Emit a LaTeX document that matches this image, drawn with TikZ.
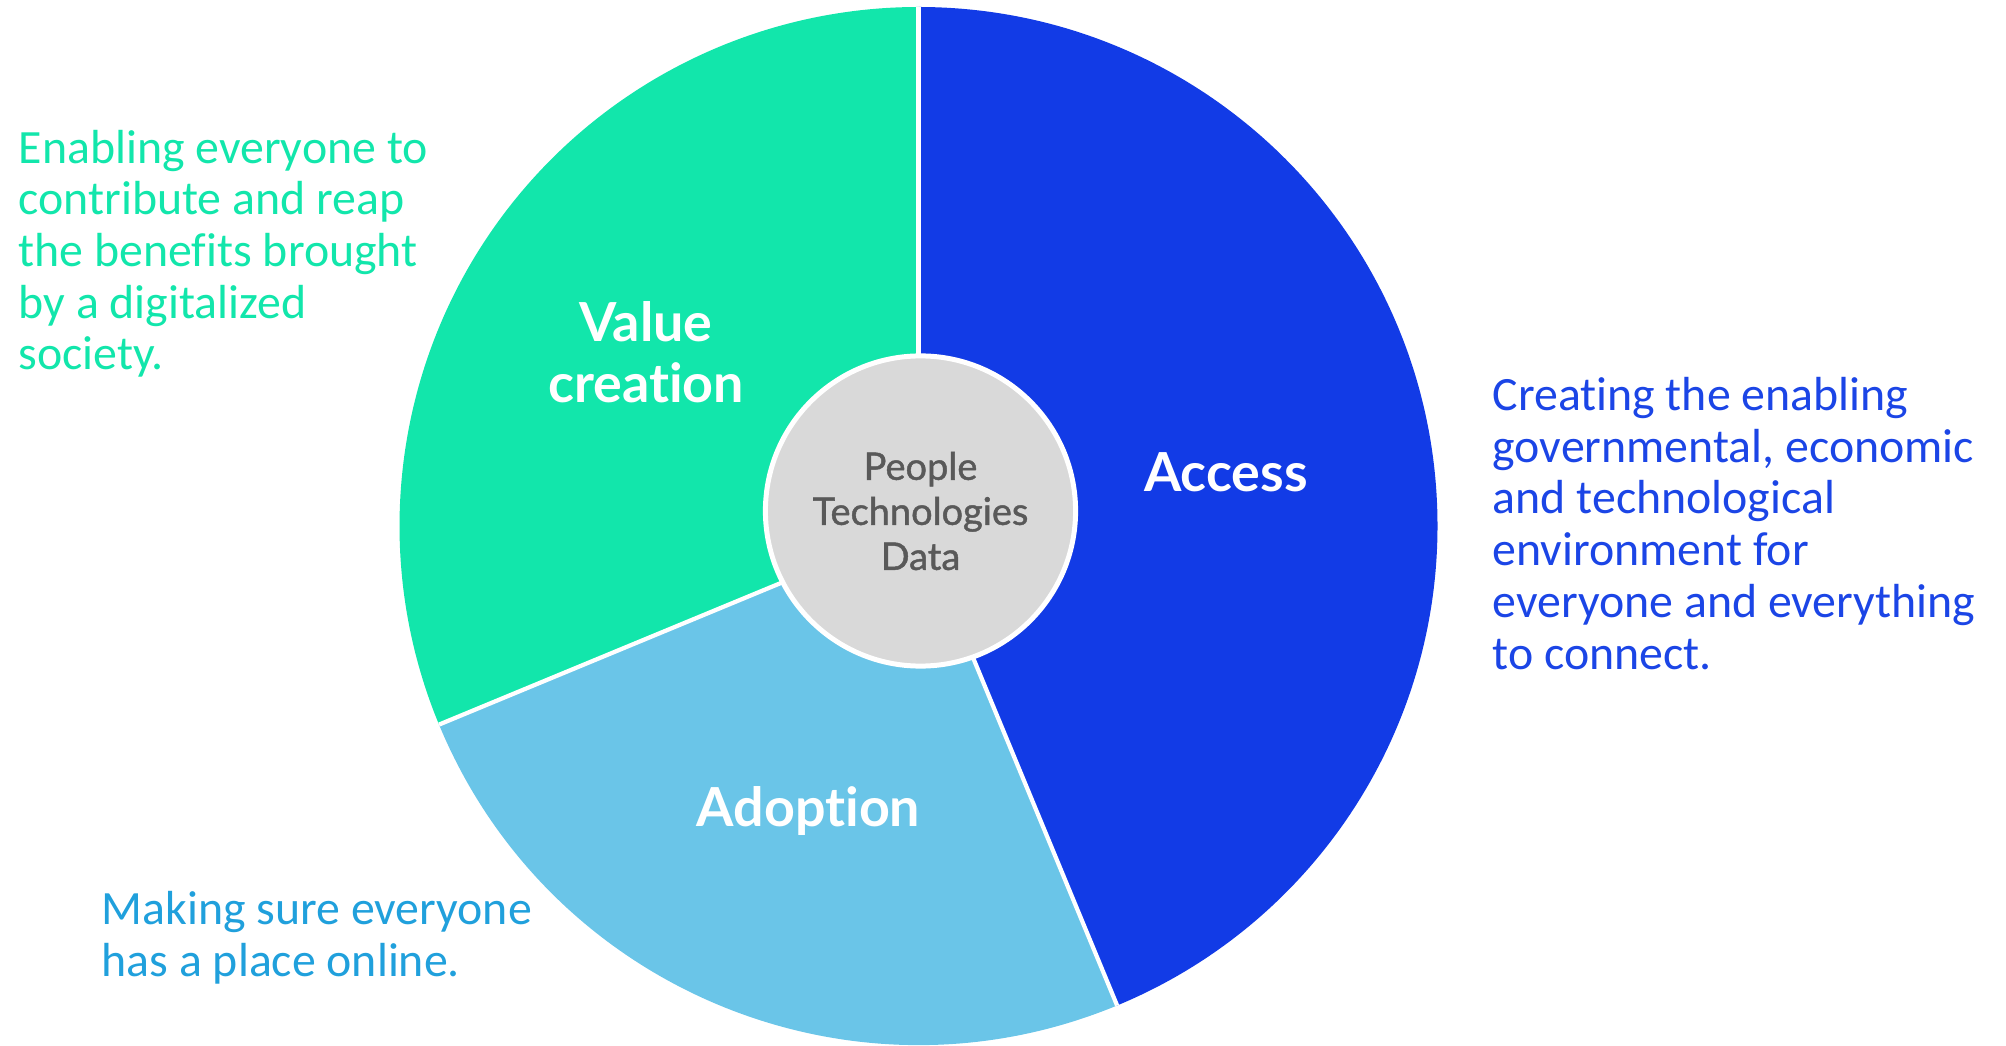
\documentclass[tikz,border=0pt]{standalone}
\usepackage{fontspec}
\setmainfont{Carlito}[Ligatures=NoCommon]
\newfontfamily\labelfont{Lato}[Ligatures=NoCommon]
\newfontfamily\corefont{Lato}[Ligatures=NoCommon, FakeBold=1.2]
\definecolor{valuegreen}{RGB}{18,230,171}
\definecolor{adoptblue}{RGB}{106,197,232}
\definecolor{adopttext}{RGB}{32,160,220}
\definecolor{accessblue}{RGB}{18,59,230}
\definecolor{accesstext}{RGB}{27,69,230}
\definecolor{coregray}{RGB}{217,217,217}
\definecolor{coretext}{RGB}{89,89,89}

\begin{document}
\begin{tikzpicture}[x=0.01cm, y=0.01cm,
  sep/.style={white, line width=1.2pt},
  slicelabel/.style={text=white, font=\labelfont\bfseries\fontsize{15.3}{17.4}\selectfont, align=center, anchor=base, inner sep=0pt},
  sidetext/.style={font=\fontsize{13.6}{14.7}\selectfont, align=left, anchor=base west, inner sep=0pt},
  core/.style={circle, fill=coregray, draw=white, line width=1.42pt, minimum size=3.1cm, inner sep=0pt, align=center, text=coretext, font=\corefont\fontsize{10.8}{12.8}\selectfont}]
\useasboundingbox (0,0) rectangle (2006,1045);
\coordinate (c) at (918.5,519);
\fill[accessblue] (c) -- ++(90:519) arc[start angle=90, end angle=-67.5, radius=519] -- cycle;
\fill[adoptblue] (c) -- ++(-67.5:519) arc[start angle=-67.5, end angle=-157.5, radius=519] -- cycle;
\fill[valuegreen] (c) -- ++(202.5:519) arc[start angle=202.5, end angle=90, radius=519] -- cycle;
\draw[sep] (c) -- ++(90:519);
\draw[sep] (c) -- ++(-67.5:519);
\draw[sep] (c) -- ++(202.5:519);
\node[core] (core) at (920.5,534) {People\\Technologies\\Data};
\node[slicelabel] (value) at (646,642) {Value\\creation};
\node[slicelabel] (access) at (1226,553) {Access};
\node[slicelabel] (adoption) at (808.5,219) {Adoption};
\node[sidetext, text=valuegreen] (valuetext) at (18,675) {Enabling everyone to\\contribute and reap\\the benefits brought\\by a digitalized\\society.};
\node[sidetext, text=accesstext] (accesstext) at (1492,376) {Creating the enabling\\governmental, economic\\and technological\\environment for\\everyone and everything\\to connect.};
\node[sidetext, text=adopttext] (adopttext) at (101,69) {Making sure everyone\\has a place online.};
\end{tikzpicture}
\end{document}
